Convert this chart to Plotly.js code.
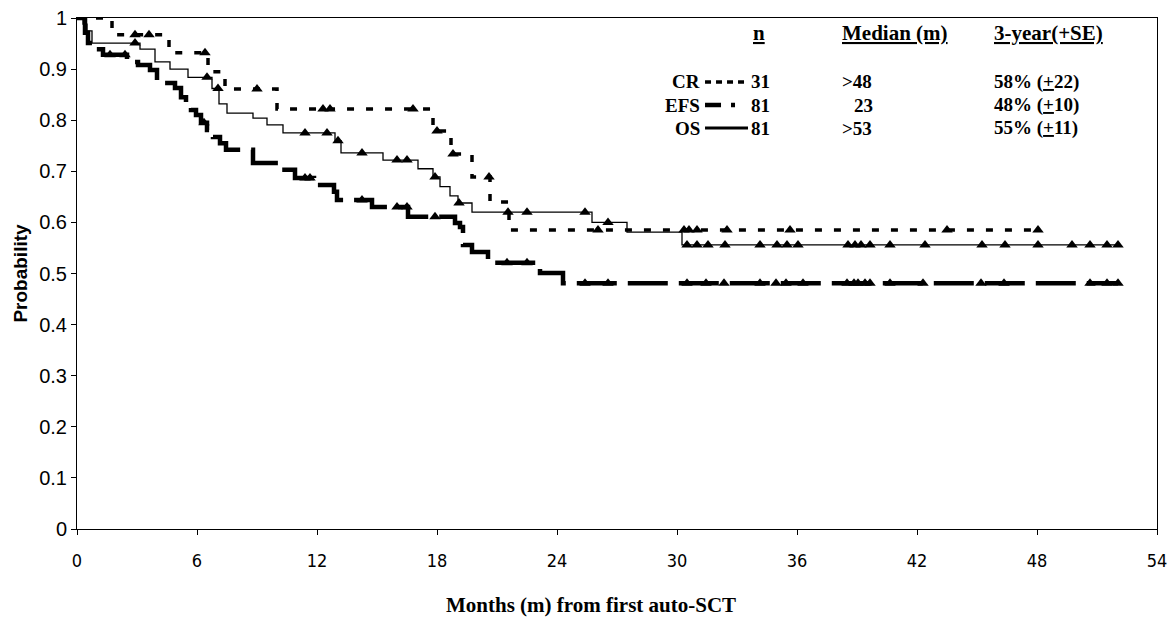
<!DOCTYPE html>
<html><head><meta charset="utf-8">
<script src="https://cdn.plot.ly/plotly-3.0.1.min.js"></script>
<style>html,body{margin:0;padding:0;background:#fff}#chart{width:1176px;height:624px}</style>
</head><body><div id="chart"></div>
<script>
// Kaplan-Meier step data (months, probability)
const crTimes = [0, 1.75, 4.6, 6.55, 7.4, 10.0, 17.8, 18.7, 19.75, 20.65, 21.6];
const crSurv  = [1.0, 0.967, 0.932, 0.895, 0.861, 0.822, 0.779, 0.734, 0.689, 0.640, 0.585];
const crEnd = 48.05;
const crCensor = [2.9, 3.6, 6.4, 9.0, 12.3, 12.65, 16.8, 18.0, 18.8, 20.6, 26.05, 30.35, 30.6, 31.0, 32.5, 35.65, 43.5, 48.05];

const efsTimes = [0, 0.4, 0.55, 0.75, 1.3, 2.5, 3.05, 3.65, 4.0, 4.9, 5.2, 5.45, 5.7, 5.95, 6.2, 6.5, 6.8, 7.15, 7.45, 8.8, 10.15, 10.9, 11.85, 12.85, 13.0, 14.75, 16.55, 18.9, 19.15, 19.3, 19.75, 20.55, 23.15, 24.3];
const efsSurv  = [1.0, 0.971, 0.951, 0.939, 0.928, 0.914, 0.908, 0.898, 0.873, 0.863, 0.845, 0.830, 0.820, 0.810, 0.795, 0.781, 0.767, 0.755, 0.742, 0.716, 0.703, 0.687, 0.673, 0.660, 0.644, 0.630, 0.611, 0.599, 0.591, 0.556, 0.542, 0.521, 0.501, 0.481];
const efsEnd = 52.05;
const efsCensor = [1.65, 2.4, 6.35, 11.4, 11.65, 14.25, 16.0, 16.5, 17.9, 21.5, 22.5, 25.4, 26.55, 30.5, 31.45, 32.35, 34.15, 34.95, 35.45, 36.3, 38.5, 38.85, 39.05, 39.4, 39.65, 40.65, 42.3, 45.2, 46.35, 50.65, 51.5, 52.05];

const osTimes = [0, 0.3, 0.5, 0.75, 3.15, 3.9, 4.65, 5.55, 6.75, 7.1, 7.5, 8.8, 9.5, 10.3, 12.9, 13.2, 15.3, 17.05, 17.8, 18.15, 18.65, 19.05, 19.75, 25.75, 27.5, 30.25];
const osSurv  = [1.0, 0.988, 0.975, 0.951, 0.939, 0.914, 0.900, 0.884, 0.862, 0.832, 0.814, 0.804, 0.791, 0.775, 0.760, 0.736, 0.722, 0.705, 0.689, 0.670, 0.652, 0.638, 0.620, 0.600, 0.581, 0.556];
const osEnd = 52.05;
const osCensor = [2.9, 6.5, 7.05, 11.4, 12.5, 13.05, 14.25, 16.0, 16.5, 17.9, 19.1, 21.55, 22.5, 25.4, 26.55, 30.5, 31.0, 31.55, 32.4, 34.15, 35.0, 35.5, 36.05, 38.55, 38.9, 39.2, 39.65, 40.65, 42.4, 45.25, 46.4, 48.05, 49.75, 50.65, 51.5, 52.05];

const xTicks = [0, 6, 12, 18, 24, 30, 36, 42, 48, 54];
const yTicks = [0, 0.1, 0.2, 0.3, 0.4, 0.5, 0.6, 0.7, 0.8, 0.9, 1];

const legendRows = [
  {name: 'CR', n: '31', median: '>48', three: '58% (<span style="text-decoration:underline">+</span>22)'},
  {name: 'EFS', n: '81', median: '23', three: '48% (<span style="text-decoration:underline">+</span>10)'},
  {name: 'OS', n: '81', median: '>53', three: '55% (<span style="text-decoration:underline">+</span>11)'}
];

function stepAt(times, surv, t) {
  let v = surv[0];
  for (let i = 0; i < times.length; i++) if (t >= times[i]) v = surv[i];
  return v;
}
function curve(times, surv, end, line) {
  return {x: times.concat([end]), y: surv.concat([surv[surv.length - 1]]), mode: 'lines',
    line: Object.assign({shape: 'hv', color: '#000'}, line), hoverinfo: 'skip', showlegend: false};
}
function marks(times, surv, cens) {
  return {x: cens, y: cens.map(t => stepAt(times, surv, t)), mode: 'markers',
    marker: {symbol: 'triangle-up', size: 10, color: '#000'}, hoverinfo: 'skip', showlegend: false};
}

const styles = {
  CR: {width: 3.5, dash: '7px,12px'},
  EFS: {width: 4.5, dash: '40px,11px'},
  OS: {width: 1.3}
};

const traces = [
  curve(efsTimes, efsSurv, efsEnd, styles.EFS),
  curve(osTimes, osSurv, osEnd, styles.OS),
  curve(crTimes, crSurv, crEnd, styles.CR),
  marks(efsTimes, efsSurv, efsCensor),
  marks(osTimes, osSurv, osCensor),
  marks(crTimes, crSurv, crCensor)
];

// legend table (paper coordinates)
const serif = 'Liberation Serif, Times New Roman, serif';
const hf = {family: serif, size: 21, color: '#000'};
const lf = {family: serif, size: 19, color: '#000'};
const ann = [];
const shapes = [];
const rowY = [0.8748, 0.8297, 0.7847];
const hdrY = 0.970;
ann.push({xref: 'paper', yref: 'paper', x: 0.6315, y: hdrY, xanchor: 'center', yanchor: 'middle', showarrow: false, font: hf, text: '<b><span style="text-decoration:underline">n</span></b>'});
ann.push({xref: 'paper', yref: 'paper', x: 0.7065, y: hdrY, xanchor: 'left', yanchor: 'middle', showarrow: false, font: hf, text: '<b><span style="text-decoration:underline">Median (m)</span></b>'});
ann.push({xref: 'paper', yref: 'paper', x: 0.8472, y: hdrY, xanchor: 'left', yanchor: 'middle', showarrow: false, font: hf, text: '<b><span style="text-decoration:underline">3-year(+SE)</span></b>'});
legendRows.forEach((r, i) => {
  const y = rowY[i];
  ann.push({xref: 'paper', yref: 'paper', x: 0.5787, y: y, xanchor: 'right', yanchor: 'middle', showarrow: false, font: lf, text: '<b>' + r.name + '</b>'});
  ann.push({xref: 'paper', yref: 'paper', x: 0.6333, y: y, xanchor: 'center', yanchor: 'middle', showarrow: false, font: lf, text: '<b>' + r.n + '</b>'});
  ann.push({xref: 'paper', yref: 'paper', x: r.name === 'EFS' ? 0.7176 : 0.7065, y: y, xanchor: 'left', yanchor: 'middle', showarrow: false, font: lf, text: '<b>' + r.median + '</b>'});
  ann.push({xref: 'paper', yref: 'paper', x: 0.8472, y: y, xanchor: 'left', yanchor: 'middle', showarrow: false, font: lf, text: '<b>' + r.three + '</b>'});
  shapes.push({type: 'line', xref: 'paper', yref: 'paper', x0: 0.5815, x1: 0.6213, y0: y, y1: y,
    line: Object.assign({color: '#000'}, styles[r.name], r.name === 'CR' ? {dash: '6px,5px'} : r.name === 'EFS' ? {dash: '16px,10px,4px,20px'} : {width: 3})});
});
// x-axis title, placed left of centre as in the original
ann.push({xref: 'paper', yref: 'paper', x: 0.476, y: -0.149, xanchor: 'center', yanchor: 'middle', showarrow: false,
  font: {family: serif, size: 21, color: '#000'}, text: '<b>Months (m) from first auto-SCT</b>'});

const layout = {
  width: 1176, height: 624,
  margin: {l: 77, r: 19, t: 18, b: 95},
  paper_bgcolor: '#fff', plot_bgcolor: '#fff',
  font: {family: 'Liberation Sans, Arial, sans-serif', color: '#000'},
  xaxis: {range: [0, 54], tickvals: xTicks, ticktext: xTicks.map(String), ticks: 'outside', ticklen: 5, tickcolor: '#000',
    showline: true, linecolor: '#000', linewidth: 1, mirror: true, showgrid: false, zeroline: false,
    tickfont: {family: 'Liberation Sans Narrow, Arial Narrow, DejaVu Sans Condensed, sans-serif', size: 18},
    ticklabelstandoff: 10},
  yaxis: {range: [0, 1], tickvals: yTicks, ticktext: yTicks.map(String), ticks: 'outside', ticklen: 5, tickcolor: '#000',
    showline: true, linecolor: '#000', linewidth: 1, mirror: true, showgrid: false, zeroline: false,
    tickfont: {family: 'Liberation Sans, Arial, sans-serif', size: 20},
    title: {text: '<b>Probability</b>', font: {family: 'Liberation Sans, Arial, sans-serif', size: 19}, standoff: 6}},
  annotations: ann,
  shapes: shapes
};

Plotly.newPlot('chart', traces, layout, {displayModeBar: false, staticPlot: true});
</script></body></html>
